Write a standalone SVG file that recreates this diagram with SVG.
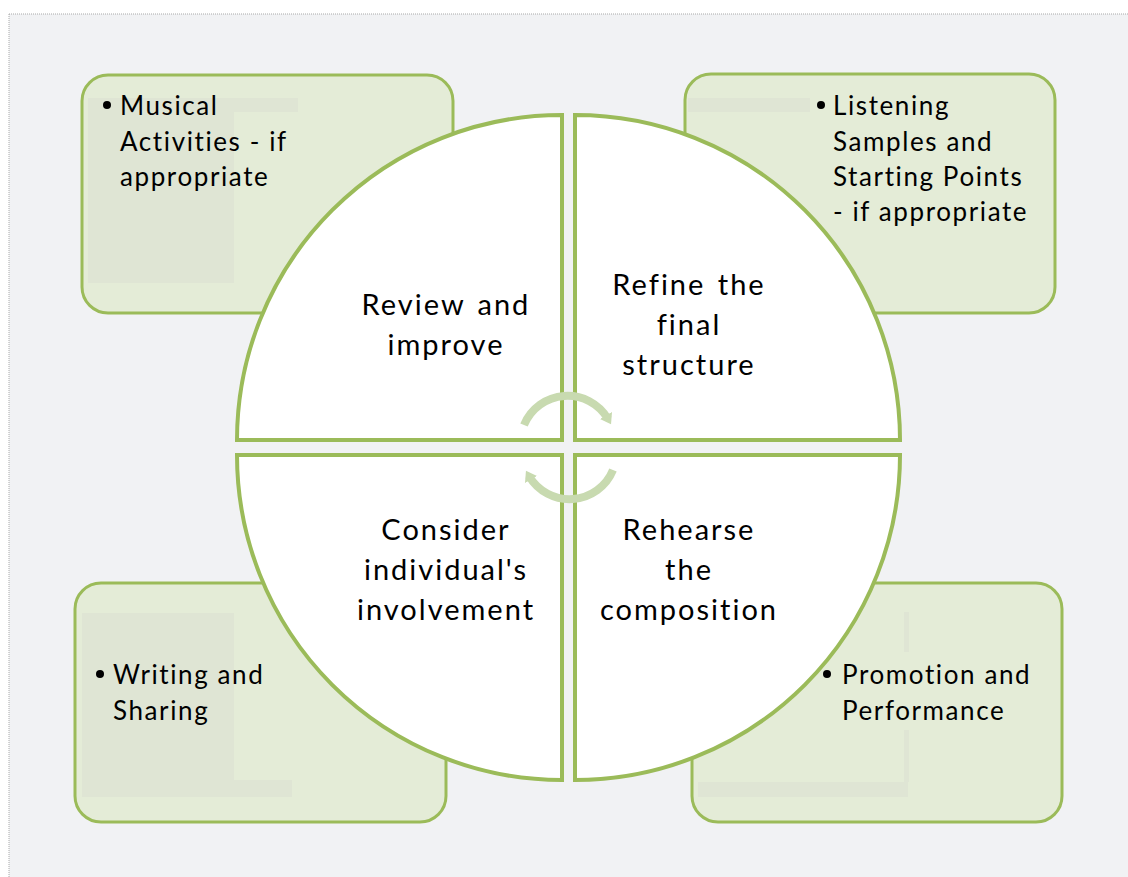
<svg xmlns="http://www.w3.org/2000/svg" width="1128" height="877" viewBox="0 0 1128 877">
  <style>
    .box { fill: #e4ecd7; stroke: #9bbb59; stroke-width: 3; }
    .patch { fill: #dfe5d4; }
    .quad { fill: #ffffff; stroke: #9bbb59; stroke-width: 4; stroke-linejoin: miter; }
    .cyc { fill: none; stroke: #c8dab0; stroke-width: 8; }
    .qt { font-family: Lato, "Liberation Sans", sans-serif; font-size: 29px; letter-spacing: 2px; word-spacing: 3px; fill: #000; text-anchor: middle; font-variant-ligatures: none; }
    .bt { font-family: Lato, "Liberation Sans", sans-serif; font-size: 26px; letter-spacing: 1.6px; fill: #000; font-variant-ligatures: none; }
    .dot { fill: #000; }
  </style>
  <defs>
    <marker id="head" markerWidth="16" markerHeight="16" refX="4" refY="8" orient="auto" markerUnits="userSpaceOnUse">
      <path d="M0 1 L10 8 L0 15 Z" fill="#c8dab0"/>
    </marker>
  </defs>

  <!-- canvas -->
  <rect x="0" y="0" width="1128" height="877" fill="#ffffff"/>
  <rect x="9" y="14" width="1119" height="863" fill="#f1f2f4"/>
  <line x1="9" y1="14" x2="1128" y2="14" stroke="#a9a9a9" stroke-width="1" stroke-dasharray="1 1"/>
  <line x1="9" y1="14" x2="9" y2="877" stroke="#a9a9a9" stroke-width="1" stroke-dasharray="1 1"/>

  <!-- corner boxes -->
  <g id="box-tl">
    <rect class="box" x="82" y="75" width="371" height="238" rx="26"/>
    <rect class="patch" x="88" y="98" width="146" height="185"/>
    <rect class="patch" x="230" y="98" width="68" height="14"/>
    <circle class="dot" cx="107" cy="105" r="4"/>
    <text class="bt" x="120" y="115">Musical</text>
    <text class="bt" x="120" y="151">Activities - if</text>
    <text class="bt" x="120" y="186">appropriate</text>
  </g>
  <g id="box-tr">
    <rect class="box" x="685" y="74" width="370" height="239" rx="26"/>
    <rect class="patch" x="688" y="98" width="122" height="14"/>
    <circle class="dot" cx="821" cy="105" r="4"/>
    <text class="bt" x="833" y="115">Listening</text>
    <text class="bt" x="833" y="151">Samples and</text>
    <text class="bt" x="833" y="186">Starting Points</text>
    <text class="bt" x="833" y="221">- if appropriate</text>
  </g>
  <g id="box-bl">
    <rect class="box" x="75" y="583" width="371" height="239" rx="26"/>
    <rect class="patch" x="82" y="613" width="152" height="184"/>
    <rect class="patch" x="230" y="780" width="62" height="17"/>
    <circle class="dot" cx="100" cy="674" r="4"/>
    <text class="bt" x="113" y="684">Writing and</text>
    <text class="bt" x="113" y="720">Sharing</text>
  </g>
  <g id="box-br">
    <rect class="box" x="692" y="583" width="370" height="239" rx="26"/>
    <rect class="patch" x="698" y="782" width="210" height="15"/>
    <rect class="patch" x="904" y="612" width="5" height="40"/>
    <rect class="patch" x="904" y="730" width="5" height="52"/>
    <circle class="dot" cx="827" cy="674" r="4"/>
    <text class="bt" x="842" y="684">Promotion and</text>
    <text class="bt" x="842" y="720">Performance</text>
  </g>

  <!-- circle quadrants -->
  <g id="quad-tl">
    <path class="quad" d="M562 440 L237 440 A325 325 0 0 1 562 115 Z"/>
    <text class="qt" x="446" y="315">Review and</text>
    <text class="qt" x="446" y="355">improve</text>
  </g>
  <g id="quad-tr">
    <path class="quad" d="M575 440 L575 115 A325 325 0 0 1 900 440 Z"/>
    <text class="qt" x="689" y="295">Refine the</text>
    <text class="qt" x="689" y="335">final</text>
    <text class="qt" x="689" y="375">structure</text>
  </g>
  <g id="quad-bl">
    <path class="quad" d="M562 455 L562 780 A325 325 0 0 1 237 455 Z"/>
    <text class="qt" x="446" y="540">Consider</text>
    <text class="qt" x="446" y="580">individual's</text>
    <text class="qt" x="446" y="620">involvement</text>
  </g>
  <g id="quad-br">
    <path class="quad" d="M575 455 L900 455 A325 325 0 0 1 575 780 Z"/>
    <text class="qt" x="689" y="540">Rehearse</text>
    <text class="qt" x="689" y="580">the</text>
    <text class="qt" x="689" y="620">composition</text>
  </g>

  <!-- cycle arrows at the centre -->
  <g id="connectors">
    <path class="cyc" d="M524 425 A47 47 0 0 1 608 419" marker-end="url(#head)"/>
    <path class="cyc" d="M613 470 A47 47 0 0 1 529 476" marker-end="url(#head)"/>
  </g>
</svg>
